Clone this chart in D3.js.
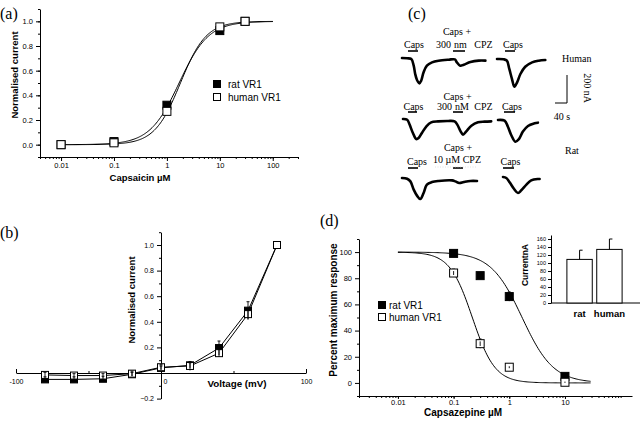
<!DOCTYPE html>
<html><head><meta charset="utf-8">
<script src="https://cdn.jsdelivr.net/npm/d3@7"></script>
<style>
body{margin:0;background:#fff}
svg{display:block}
text{font-family:"Liberation Sans",Arial,sans-serif;fill:#000}
.serif{font-family:"Liberation Serif","Times New Roman",serif}
</style></head>
<body><svg id="c" width="640" height="424"></svg>
<script>
// ---------- DATA ----------
// (a) capsaicin dose-response
const capsConc = [0.01, 0.1, 1, 10, 30];
const capsRat = [0.0, 0.025, 0.32, 0.925, 1.0];
const capsHuman = [0.0, 0.015, 0.27, 0.955, 1.0];
const capsFitRat = {ec50: 1.7, n: 1.56};
const capsFitHuman = {ec50: 1.8, n: 1.78};
const capsTicks = [0.01, 0.1, 1, 10, 100];
const capsTickLabels = ["0.01", "0.1", "1", "10", "100"];

// (b) current-voltage
const volt = [-80, -60, -40, -20, 0, 20, 40, 60, 80];
const ivRat = [-0.05, -0.05, -0.045, -0.01, 0.04, 0.06, 0.195, 0.487, 1.0];
const ivHuman = [-0.015, -0.02, -0.02, -0.005, 0.045, 0.055, 0.155, 0.46, 1.0];
const ivRatErr = [0.02, 0.02, 0.02, 0.015, 0.015, 0.02, 0.055, 0.07, 0];
const ivHumanErr = [0.02, 0.015, 0.015, 0.02, 0.02, 0.035, 0.03, 0.04, 0];
const voltTicks = [-100, 0, 100];
const ivYTicks = [-0.2, 0.2, 0.4, 0.6, 0.8, 1.0];

// (c) example traces: [time s, current nA]
const traceHuman1 = [[0,0],[17,-2],[31,-7],[39,-55],[44,-114],[50,-157],[58,-181],[64,-162],[72,-102],[83,-55],[100,-31],[122,-19],[156,-12],[176,-10],[183,-31],[194,-55],[206,-48],[228,-29],[256,-19],[278,-19]];
const traceHuman2 = [[0,0],[22,-2],[33,-12],[41,-71],[50,-143],[58,-198],[67,-167],[78,-107],[94,-55],[117,-24],[139,-12],[161,-7]];
const traceRat1 = [[0,0],[14,-5],[22,-40],[33,-100],[44,-143],[52,-136],[63,-100],[78,-52],[94,-24],[117,-17],[150,-14],[172,-17],[181,-40],[192,-88],[200,-112],[211,-88],[228,-48],[250,-24],[272,-19],[294,-17]];
const traceRat2 = [[0,0],[22,-5],[33,-48],[44,-107],[58,-155],[69,-138],[83,-83],[100,-43],[122,-24],[133,-19]];
const traceRat3 = [[0,0],[17,-5],[28,-24],[39,-83],[50,-126],[61,-150],[72,-107],[83,-48],[100,-29],[122,-21],[167,-17],[178,-24],[191,-36],[206,-29],[228,-21],[250,-21]];
const traceRat4 = [[0,0],[11,-7],[22,-38],[37,-86],[50,-114],[61,-95],[78,-55],[94,-24],[117,-14],[122,-14]];
const scaleBarCurrent = 200; // nA
const scaleBarTime = 40;     // s

// (d) capsazepine inhibition
const cpzConc = [0.1, 0.3, 1, 10];
const cpzRat = [99, 82, 66, 5];
const cpzHuman = [84, 30, 12, 0.5];
const cpzRatErr = [1.5, 2, 3.5, 1.5];
const cpzHumanErr = [3, 3.5, 1.5, 1];
const cpzFitRat = {ic50: 1.7, n: 1.55};
const cpzFitHuman = {ic50: 0.217, n: 2.14};
const cpzTicks = [0.01, 0.1, 1, 10];
const cpzTickLabels = ["0.01", "0.1", "1", "10"];
const insetCats = ["rat", "human"];
const insetVals = [109, 134];
const insetErr = [23, 26];

// ---------- HELPERS ----------
const svg = d3.select("#c");
function logMinor(domain) {
  const out = [];
  for (let k = -4; k <= 3; k++) for (let m = 1; m <= 9; m++) {
    const v = m * Math.pow(10, k);
    if (v >= domain[0] * 0.999 && v <= domain[1] * 1.001) out.push(v);
  }
  return out;
}
function drawAxis(orient, scale, pos, major, minor, fmt, opt = {}) {
  const maker = {bottom: d3.axisBottom, left: d3.axisLeft}[orient];
  const g = svg.append("g").attr("transform", orient === "left" ? `translate(${pos},0)` : `translate(0,${pos})`);
  const sgn = opt.inward ? -1 : 1;
  g.append("g").call(maker(scale).tickValues(minor).tickSize(sgn * (opt.minLen || 2)).tickFormat("").tickSizeOuter(0))
    .call(s => s.select(".domain").remove());
  const gm = g.append("g").call(maker(scale).tickValues(major).tickSize(sgn * (opt.majLen || 4))
    .tickSizeOuter(0).tickPadding(opt.pad || 2).tickFormat(fmt));
  gm.selectAll("text").attr("font-size", opt.fs || 7.5).style("font-family", '"Liberation Sans",Arial,sans-serif');
  gm.selectAll("line,path").attr("stroke", "#000").attr("stroke-width", 1);
  g.selectAll("line").attr("stroke", "#000");
  return gm;
}
function label(x, y, txt, o = {}) {
  const t = svg.append("text").attr("x", x).attr("y", y).text(txt)
    .attr("font-size", o.fs || 10).attr("text-anchor", o.anchor || "start");
  if (o.bold) t.attr("font-weight", "bold");
  if (o.serif) t.attr("class", "serif");
  if (o.rot) t.attr("transform", `rotate(${o.rot},${x},${y})`);
  return t;
}
function squares(xs, ys, sx, sy, fill, size) {
  svg.append("g").selectAll("rect").data(xs).join("rect")
    .attr("x", (d, i) => sx(d) - size / 2).attr("y", (d, i) => sy(ys[i]) - size / 2)
    .attr("width", size).attr("height", size)
    .attr("fill", fill).attr("stroke", "#000").attr("stroke-width", 1);
}
function errBars(xs, ys, es, sx, sy, cap) {
  const g = svg.append("g").attr("stroke", "#000").attr("stroke-width", 0.9);
  xs.forEach((x, i) => {
    if (!es[i]) return;
    const px = sx(x), y0 = sy(ys[i] - es[i]), y1 = sy(ys[i] + es[i]);
    g.append("line").attr("x1", px).attr("x2", px).attr("y1", y0).attr("y2", y1);
    g.append("line").attr("x1", px - cap).attr("x2", px + cap).attr("y1", y1).attr("y2", y1);
  });
}

// ---------- PANEL (a) ----------
const aX = d3.scaleLog().domain([0.004, 300]).range([40, 298]);
const aY = d3.scaleLinear().domain([-0.1, 1.1]).range([157, 9]);
drawAxis("bottom", aX, 157, capsTicks, logMinor([0.004, 300]), (d, i) => capsTickLabels[i], {pad: 2});
drawAxis("left", aY, 40, [0, 0.2, 0.4, 0.6, 0.8, 1.0], d3.range(-0.1, 1.11, 0.1), d3.format(".1f"), {pad: 3});
const hill = p => c => 1 / (1 + Math.pow(p.ec50 / c, p.n));
const fineA = d3.range(-2, 2.001, 0.02).map(e => Math.pow(10, e));
[capsFitRat, capsFitHuman].forEach(p => {
  svg.append("path").datum(fineA).attr("fill", "none").attr("stroke", "#000").attr("stroke-width", 1)
    .attr("d", d3.line().x(c => aX(c)).y(c => aY(hill(p)(c))));
});
squares(capsConc, capsRat, aX, aY, "#000", 8);
squares(capsConc, capsHuman, aX, aY, "#fff", 8);
svg.append("rect").attr("x", 213.5).attr("y", 80.5).attr("width", 7).attr("height", 7).attr("fill", "#000").attr("stroke", "#000");
svg.append("rect").attr("x", 213.5).attr("y", 93.5).attr("width", 7).attr("height", 7).attr("fill", "#fff").attr("stroke", "#000");
label(228, 88, "rat VR1", {fs: 10});
label(228, 101, "human VR1", {fs: 10});
label(140, 181, "Capsaicin µM", {fs: 9.5, bold: true, anchor: "middle"});
label(17.5, 75, "Normalised current", {fs: 9.5, bold: true, anchor: "middle", rot: -90});
label(0, 19, "(a)", {fs: 16, serif: true});

// ---------- PANEL (b) ----------
const bX = d3.scaleLinear().domain([-100, 100]).range([16, 306]);
const bY = d3.scaleLinear().domain([-0.2, 1.1]).range([398.6, 232.2]);
const bxg = drawAxis("bottom", bX, bY(0), voltTicks, [-50, 50], d => d, {inward: true, pad: 6, fs: 7});
bxg.selectAll(".tick text").filter(d => d === 0).attr("dx", 4);
drawAxis("left", bY, bX(0), ivYTicks.concat([0]), [-0.1, 0.1, 0.3, 0.5, 0.7, 0.9, 1.1], d => d === 0 ? "" : d3.format(".1f")(d), {pad: 3, fs: 7});
[ivRat, ivHuman].forEach(vals => {
  svg.append("path").datum(volt).attr("fill", "none").attr("stroke", "#000").attr("stroke-width", 1)
    .attr("d", d3.line().x(v => bX(v)).y((v, i) => bY(vals[i])));
});
squares(volt, ivRat, bX, bY, "#000", 7);
squares(volt, ivHuman, bX, bY, "#fff", 7);
errBars(volt, ivRat, ivRatErr, bX, bY, 1.5);
errBars(volt, ivHuman, ivHumanErr, bX, bY, 1.5);
label(237, 386.5, "Voltage (mV)", {fs: 9.8, bold: true, anchor: "middle"});
label(135, 300, "Normalised current", {fs: 9.5, bold: true, anchor: "middle", rot: -90});
label(0, 238, "(b)", {fs: 16, serif: true});

// ---------- PANEL (c) ----------
const tPx = d3.scaleLinear().domain([0, scaleBarTime]).range([0, 12]);
const iPx = d3.scaleLinear().domain([0, -scaleBarCurrent]).range([0, 28]);
function trace(data, x0, y0) {
  svg.append("path").datum(data).attr("fill", "none").attr("stroke", "#000")
    .attr("stroke-width", 2.6).attr("stroke-linejoin", "round").attr("stroke-linecap", "round")
    .attr("d", d3.line().curve(d3.curveCatmullRom).x(d => x0 + tPx(d[0])).y(d => y0 + iPx(d[1])));
}
function bar(x1, x2, y) {
  svg.append("line").attr("x1", x1).attr("x2", x2).attr("y1", y).attr("y2", y).attr("stroke", "#000").attr("stroke-width", 1.6);
}
const S = {fs: 10, serif: true, anchor: "middle"};
label(408, 19, "(c)", {fs: 16, serif: true});
// human row
trace(traceHuman1, 402, 58); trace(traceHuman2, 497, 59);
label(414, 48, "Caps", S); label(457, 35, "Caps +", S);
label(443.5, 48, "300", S); label(460.5, 48, "nm", S); label(483.5, 48, "CPZ", S);
label(513, 48, "Caps", S);
bar(408, 418, 51); bar(453, 465, 51); bar(505, 515, 51);
label(562, 61.5, "Human", {fs: 10, serif: true});
// scale bar
const sbx = 567, sby = 103;
svg.append("path").attr("fill", "none").attr("stroke", "#000").attr("stroke-width", 1)
  .attr("d", `M${sbx},${sby + iPx(scaleBarCurrent)}V${sby}H${sbx - tPx(scaleBarTime)}`);
label(583.5, 88, "200 nA", {fs: 10, serif: true, anchor: "middle", rot: 90});
label(562, 119.5, "40 s", S);
// rat row 1
trace(traceRat1, 403, 119); trace(traceRat2, 498, 120);
label(413.5, 109.5, "Caps", S); label(457.5, 99.5, "Caps +", S);
label(444.5, 109.5, "300", S); label(462, 109.5, "nM", S); label(483.5, 109.5, "CPZ", S);
label(512, 109.5, "Caps", S);
bar(408, 417, 112); bar(453, 463, 112); bar(504, 515, 112);
label(565, 153.5, "Rat", {fs: 10, serif: true});
// rat row 2
trace(traceRat3, 402, 178); trace(traceRat4, 503, 177);
label(417, 164.5, "Caps", S); label(458, 150.5, "Caps +", S);
label(457, 162.5, "10 µM CPZ", S);
label(510.5, 164.5, "Caps", S);
bar(408, 418, 168); bar(453, 463, 168); bar(503, 514, 168);
svg.append("line").attr("x1", 435).attr("x2", 476).attr("y1", 167).attr("y2", 167)
  .attr("stroke", "#ccc").attr("stroke-width", 0.6).attr("stroke-dasharray", "1,1.5");

// ---------- PANEL (d) ----------
const dX = d3.scaleLog().domain([0.002, 160]).range([359, 632]);
const dY = d3.scaleLinear().domain([-10, 110]).range([396, 239]);
drawAxis("bottom", dX, 396, cpzTicks, logMinor([0.002, 160]), (d, i) => cpzTickLabels[i], {pad: 1, majLen: 3});
drawAxis("left", dY, 359, d3.range(0, 101, 20), [-10, 10, 30, 50, 70, 90, 110], d => d, {pad: 3});
const inhib = p => c => 100 / (1 + Math.pow(c / p.ic50, p.n));
const fineD = d3.range(-2, Math.log10(30) + 0.001, 0.02).map(e => Math.pow(10, e));
[cpzFitRat, cpzFitHuman].forEach(p => {
  svg.append("path").datum(fineD).attr("fill", "none").attr("stroke", "#000").attr("stroke-width", 1)
    .attr("d", d3.line().x(c => dX(c)).y(c => dY(inhib(p)(c))));
});
errBars(cpzConc, cpzRat, cpzRatErr, dX, dY, 1.5);
errBars(cpzConc, cpzHuman, cpzHumanErr, dX, dY, 1.5);
squares(cpzConc, cpzRat, dX, dY, "#000", 8);
squares(cpzConc, cpzHuman, dX, dY, "#fff", 8);
errBars(cpzConc, cpzHuman, cpzHumanErr.map(e => e * 0.5), dX, dY, 0);
svg.append("rect").attr("x", 378.5).attr("y", 301.5).attr("width", 7).attr("height", 7).attr("fill", "#000").attr("stroke", "#000");
svg.append("rect").attr("x", 378.5).attr("y", 313.5).attr("width", 7).attr("height", 7).attr("fill", "#fff").attr("stroke", "#000");
label(389, 309, "rat VR1", {fs: 10});
label(389, 321, "human VR1", {fs: 10});
label(463, 415.5, "Capsazepine µM", {fs: 10, bold: true, anchor: "middle"});
label(336.5, 310, "Percent maximum response", {fs: 10, bold: true, anchor: "middle", rot: -90});
label(320, 226, "(d)", {fs: 16, serif: true});

// inset
const iY = d3.scaleLinear().domain([0, 170]).range([303, 235]);
const iX = d3.scaleBand().domain(insetCats).range([566, 623]).paddingInner(0.15).paddingOuter(0.03);
drawAxis("left", iY, 551, d3.range(0, 161, 20), [], d => d, {pad: 2, fs: 5.5, majLen: 3});
svg.append("line").attr("x1", 551).attr("x2", 640).attr("y1", iY(0)).attr("y2", iY(0)).attr("stroke", "#000");
svg.append("g").selectAll("rect").data(insetCats).join("rect")
  .attr("x", d => iX(d)).attr("width", iX.bandwidth())
  .attr("y", (d, i) => iY(insetVals[i])).attr("height", (d, i) => iY(0) - iY(insetVals[i]))
  .attr("fill", "#fff").attr("stroke", "#000").attr("stroke-width", 1);
insetCats.forEach((c, i) => {
  const x = iX(c) + iX.bandwidth() / 2;
  svg.append("line").attr("x1", x).attr("x2", x).attr("y1", iY(insetVals[i])).attr("y2", iY(insetVals[i] + insetErr[i])).attr("stroke", "#000");
  svg.append("line").attr("x1", x).attr("x2", x + 3).attr("y1", iY(insetVals[i] + insetErr[i])).attr("y2", iY(insetVals[i] + insetErr[i])).attr("stroke", "#000");
  label(x, 316.5, c, {fs: 9.5, bold: true, anchor: "middle"});
});
label(528, 265, "CurrentnA", {fs: 8.5, bold: true, anchor: "middle", rot: -90});
</script></body></html>
